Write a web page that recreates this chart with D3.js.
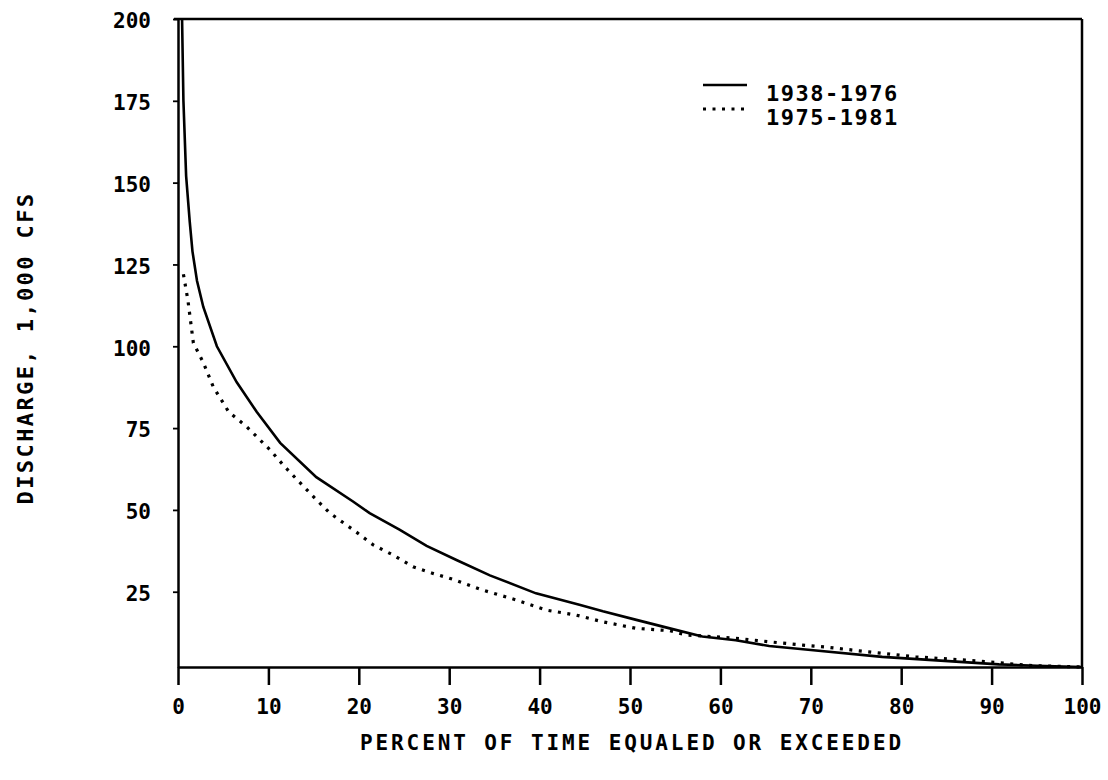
<!DOCTYPE html>
<html><head><meta charset="utf-8">
<script src="https://cdn.jsdelivr.net/npm/d3@7"></script>
<style>body{margin:0;background:#fff}</style>
</head><body><svg id="c" width="1108" height="780"></svg>
<script>
const seriesNames = ["1938-1976", "1975-1981"];
const pct1 = [0.45, 0.6, 0.9, 1.3, 1.6, 2.1, 2.8, 4.3, 6.5, 8.7, 11.3, 15.3, 19.4, 21.2, 24.5, 27.5, 30.8, 34.5, 39.6, 44.4, 47, 50.7, 54.4, 58, 61.7, 65.4, 70, 77.9, 83.5, 90.8, 95, 100];
const val1 = [200, 175, 152, 138, 129, 120, 112, 100, 89, 80, 70.5, 60, 52.5, 49, 44, 39, 34.7, 30, 24.5, 21, 19, 16.4, 13.8, 11.3, 10.2, 8.4, 7.2, 5.1, 4.1, 2.8, 2.4, 2];
const pct2 = [0.6, 1.1, 1.7, 2.8, 3.9, 5.6, 7.6, 10.2, 11.8, 15, 16.8, 19.7, 21.6, 23.8, 26, 28.2, 30.4, 33.7, 37.4, 40.7, 44, 47, 50.7, 54.4, 56.2, 61.7, 65.4, 69.1, 72, 76.1, 81.6, 87.1, 90.8, 94.5, 100];
const val2 = [122, 114, 101, 95, 87.6, 80, 75.4, 68.3, 63.2, 54, 49, 43.3, 39.3, 36.2, 32.6, 30.6, 28.8, 25.5, 22.5, 19.4, 17.9, 15.8, 13.8, 13.1, 11.8, 10.8, 9.7, 8.7, 8.0, 6.7, 5.1, 4.1, 3.3, 2.4, 2];
const xTicks = [0, 10, 20, 30, 40, 50, 60, 70, 80, 90, 100];
const yTicks = [25, 50, 75, 100, 125, 150, 175, 200];
const xTitle = "PERCENT OF TIME EQUALED OR EXCEEDED";
const yTitle = "DISCHARGE, 1,000 CFS";

const svg = d3.select("#c");
const FONT = "'DejaVu Sans Mono', monospace";
const x = d3.scaleLinear().domain([0, 100]).range([178, 1082]);
const y = d3.scaleLinear().domain([2, 200]).range([667, 19]);

// frame: top and right
svg.append("line").attr("x1", x(0) - 4).attr("x2", x(100)).attr("y1", y(200)).attr("y2", y(200))
  .attr("stroke", "#000").attr("stroke-width", 2.5);
svg.append("line").attr("x1", x(100)).attr("x2", x(100)).attr("y1", y(200)).attr("y2", y(2))
  .attr("stroke", "#000").attr("stroke-width", 2.5);

const xAxis = svg.append("g").attr("transform", `translate(0,${y(2)})`)
  .call(d3.axisBottom(x).tickValues(xTicks).tickSize(18).tickSizeOuter(0).tickPadding(14).tickFormat(d3.format("d")));
xAxis.select(".domain").attr("stroke-width", 2.5);
xAxis.selectAll(".tick line").attr("stroke-width", 2.5);
xAxis.selectAll("text").attr("font-family", FONT).attr("font-weight", "bold").attr("font-size", 21).attr("fill", "#000");

const yAxis = svg.append("g").attr("transform", `translate(${x(0)},0)`)
  .call(d3.axisLeft(y).tickValues(yTicks).tickSize(5).tickSizeOuter(0).tickPadding(22));
yAxis.select(".domain").attr("stroke-width", 2.5);
yAxis.selectAll(".tick line").attr("stroke-width", 1.8);
yAxis.selectAll("text").attr("font-family", FONT).attr("font-weight", "bold").attr("font-size", 21).attr("fill", "#000").attr("dy", "0.42em");

const line = d3.line().x(d => x(d[0])).y(d => y(d[1]));
const d1 = pct1.map((p, i) => [p, val1[i]]);
const d2 = pct2.map((p, i) => [p, val2[i]]);
svg.append("path").attr("d", line(d1)).attr("fill", "none").attr("stroke", "#000").attr("stroke-width", 2.6);
svg.append("path").attr("d", line(d2)).attr("fill", "none").attr("stroke", "#000").attr("stroke-width", 3.2)
  .attr("stroke-dasharray", "3 6.5");

// legend
const lg = svg.append("g");
[[85, null], [109, "3 6.5"]].forEach((r, i) => {
  const l = lg.append("line").attr("x1", 703).attr("x2", 747).attr("y1", r[0]).attr("y2", r[0])
    .attr("stroke", "#000").attr("stroke-width", i === 0 ? 2.4 : 2.8);
  if (r[1]) l.attr("stroke-dasharray", r[1]);
  lg.append("text").attr("x", 766).attr("y", r[0] + 16).text(seriesNames[i])
    .attr("font-family", FONT).attr("font-weight", "bold").attr("font-size", 22)
    .attr("letter-spacing", 1.5).attr("fill", "#000");
});

svg.append("text").attr("x", 632).attr("y", 750).attr("text-anchor", "middle").text(xTitle)
  .attr("font-family", FONT).attr("font-weight", "bold").attr("font-size", 21)
  .attr("letter-spacing", 2.9).attr("fill", "#000");
svg.append("text").attr("transform", "translate(33,348) rotate(-90)").attr("text-anchor", "middle").text(yTitle)
  .attr("font-family", FONT).attr("font-weight", "bold").attr("font-size", 22)
  .attr("letter-spacing", 2.4).attr("fill", "#000");
</script></body></html>
